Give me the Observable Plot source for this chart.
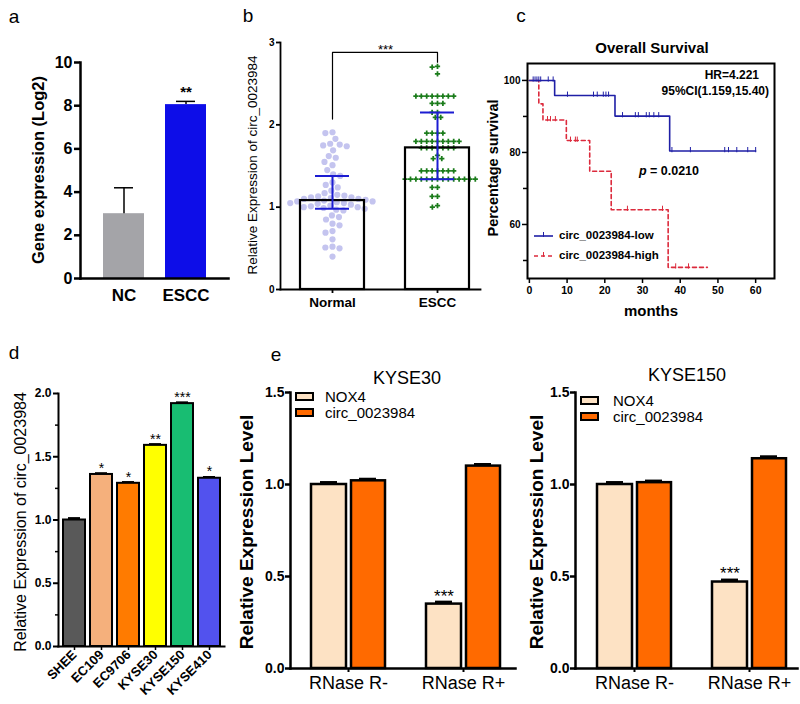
<!DOCTYPE html>
<html><head><meta charset="utf-8">
<script src="https://cdn.jsdelivr.net/npm/d3@7"></script>
<script src="https://cdn.jsdelivr.net/npm/@observablehq/plot@0.6"></script>
<style>
body{margin:0;background:#fff;}
#fig{position:relative;width:800px;height:704px;overflow:hidden;background:#fff;font-family:"Liberation Sans",Arial,sans-serif;color:#000;}
#fig svg{position:absolute;max-width:none;overflow:visible;}
.t{position:absolute;white-space:nowrap;line-height:1;}
</style></head><body><div id="fig"></div>
<script>
// ---------- data ----------
// panel a
const aGroups = ["NC", "ESCC"];
const aMeans = [3.0, 8.05];
const aUpper = [4.2, 8.2];
const aStars = ["", "**"];
// panel b
const bGroups = ["Normal", "ESCC"];
const bMeans = [1.08, 1.72];
const bLow = [0.98, 1.34];
const bHigh = [1.38, 2.15];
const bNormalPoints = [1.91, 1.90, 1.83, 1.77, 1.76, 1.75, 1.74, 1.69, 1.62, 1.60, 1.55, 1.51, 1.45, 1.40, 1.38,
  1.30, 1.27, 1.24, 1.20, 1.17, 1.15, 1.14, 1.13, 1.12, 1.12, 1.11, 1.10, 1.10, 1.09, 1.08, 1.07, 1.07, 1.06,
  1.05, 1.05, 1.04, 1.03, 1.02, 1.01, 1.00, 1.00, 0.99, 0.98, 0.97, 0.96, 0.90, 0.88, 0.85, 0.80, 0.78, 0.71,
  0.69, 0.61, 0.52, 0.51, 0.50, 0.40];
const bEsccPoints = [2.71, 2.70, 2.62, 2.35, 2.35, 2.35, 2.35, 2.35, 2.35, 2.35, 2.35, 2.26, 2.26, 2.26, 2.15, 2.15,
  2.09, 2.09, 1.90, 1.90, 1.90, 1.90, 1.80, 1.80, 1.80, 1.80, 1.80, 1.80, 1.80, 1.80, 1.80, 1.72, 1.72, 1.72, 1.72,
  1.72, 1.72, 1.72, 1.63, 1.59, 1.59, 1.44, 1.44, 1.44, 1.44, 1.44, 1.44, 1.44, 1.34, 1.34, 1.34, 1.34, 1.34, 1.34,
  1.34, 1.34, 1.34, 1.34, 1.34, 1.34, 1.34, 1.34, 1.24, 1.24, 1.13, 1.13, 1.02, 1.00];
const bBracketGroups = ["Normal", "Normal", "ESCC", "ESCC"];
const bBracketValues = [2.07, 2.88, 2.88, 2.76];
const bSignif = "***";
// panel c
const cLowMonths = [0, 6.7, 22.7, 37.2, 60];
const cLowSurvival = [100, 95.8, 90.1, 80.4, 80.4];
const cHighMonths = [0, 2.5, 3.6, 9.8, 16, 21.7, 36.8, 47.2];
const cHighSurvival = [100, 93.5, 89, 83.3, 74.8, 64.1, 48.1, 48.1];
const cLowCensorMonths = [1, 1.5, 2, 2.5, 3, 5, 6.3, 10.1, 17, 18, 19.6, 20.3, 21, 24.7, 28.1, 28.9, 31, 31.8, 33, 34.3, 37.8, 42.7, 51.8, 52.8, 55, 57.9, 60];
const cLowCensorSurvival = [100, 100, 100, 100, 100, 100, 100, 95.8, 95.8, 95.8, 95.8, 95.8, 95.8, 90.1, 90.1, 90.1, 90.1, 90.1, 90.1, 90.1, 80.4, 80.4, 80.4, 80.4, 80.4, 80.4, 80.4];
const cHighCensorMonths = [4.8, 5.6, 6.9, 10.9, 12.2, 12.7, 26, 35.3, 38.8, 42.2];
const cHighCensorSurvival = [89, 89, 89, 83.3, 83.3, 83.3, 64.1, 64.1, 48.1, 48.1];
const cSeries = ["circ_0023984-low", "circ_0023984-high"];
const cHR = "HR=4.221";
const cCI = "95%CI(1.159,15.40)";
const cP = "0.0210";
// panel d
const dLines = ["SHEE", "EC109", "EC9706", "KYSE30", "KYSE150", "KYSE410"];
const dValues = [1.0, 1.36, 1.29, 1.59, 1.92, 1.33];
const dErrors = [0.015, 0.01, 0.01, 0.01, 0.01, 0.01];
const dStars = ["", "*", "*", "**", "***", "*"];
// panel e
const eGroups = ["RNase R-", "RNase R+"];
const eSeries = ["NOX4", "circ_0023984"];
const eStars = ["", "***"];
const kyse30Nox4 = [1.0, 0.35];
const kyse30Nox4Err = [0.012, 0.012];
const kyse30Circ = [1.02, 1.10];
const kyse30CircErr = [0.01, 0.01];
const kyse150Nox4 = [1.0, 0.47];
const kyse150Nox4Err = [0.012, 0.012];
const kyse150Circ = [1.01, 1.14];
const kyse150CircErr = [0.01, 0.012];

// ---------- style ----------
const A_COLORS = ["#a4a4a8", "#0d0de8"];
const B_NORMAL = "#c4c4ef", B_ESCC = "#1b7c1b", B_ERR = "#1c1cd2";
const C_LOW = "#1f1fa6", C_HIGH = "#dc2a3c";
const D_COLORS = ["#595959", "#f5b07c", "#ff7b00", "#ffff00", "#18bd72", "#5252ee"];
const E_COLORS = ["#fde2c4", "#ff6a00"];
const base = {background: "transparent", fontFamily: "'Liberation Sans', Arial, sans-serif", overflow: "visible", color: "black"};

const fig = document.getElementById("fig");
function put(svg, left, top) { svg.style.left = left + "px"; svg.style.top = top + "px"; fig.appendChild(svg); return svg; }
function label(text, x, y, o = {}) {
  const d = document.createElement("div");
  d.className = "t";
  d.textContent = text;
  const tx = o.anchor === "end" ? "-100%" : o.anchor === "start" ? "0" : "-50%";
  d.style.left = x + "px"; d.style.top = y + "px";
  d.style.transform = `translate(${tx},-50%) rotate(${o.rotate || 0}deg)`;
  d.style.fontSize = (o.size || 12) + "px";
  d.style.fontWeight = o.weight || "normal";
  if (o.italic) d.style.fontStyle = "italic";
  fig.appendChild(d);
  return d;
}

// ---------- panel a ----------
const aData = aGroups.map((g, i) => ({g, v: aMeans[i], e: aUpper[i], s: aStars[i]}));
put(Plot.plot({
  width: 240, height: 320, marginLeft: 80, marginRight: 12, marginTop: 62, marginBottom: 42,
  style: {...base, fontWeight: "bold"},
  x: {domain: aGroups, paddingInner: 0.34, paddingOuter: 0.345},
  y: {domain: [0, 10]},
  color: {domain: aGroups, range: A_COLORS},
  marks: [
    Plot.barY(aData, {x: "g", y: "v", fill: "g"}),
    Plot.ruleX(aData, {x: "g", y1: "v", y2: "e", strokeWidth: 1.5}),
    Plot.tickY(aData, {x: "g", y: "e", strokeWidth: 1.5, inset: 11}),
    Plot.text(aData, {x: "g", y: "e", text: "s", dy: -9, fontSize: 15}),
    Plot.axisY({ticks: [0, 2, 4, 6, 8, 10], label: null, tickSize: 6, tickPadding: 2, fontSize: 16, strokeWidth: 2.5}),
    Plot.axisX({label: null, tickSize: 0, tickPadding: 10, fontSize: 17}),
    Plot.frame({anchor: "left", strokeWidth: 2.5}),
    Plot.frame({anchor: "bottom", strokeWidth: 2.5})
  ]
}), 0, 0);
label("Gene expression (Log2)", 38, 170, {rotate: -90, size: 16.5, weight: "bold"});

// ---------- panel b ----------
const bData = bGroups.map((g, i) => ({g, m: bMeans[i], lo: bLow[i], hi: bHigh[i]}));
const bBracket = bBracketGroups.map((g, i) => ({g, v: bBracketValues[i]}));
const bPlot = Plot.plot({
  width: 240, height: 320, marginLeft: 30, marginRight: 10, marginTop: 42, marginBottom: 31,
  style: {...base, fontWeight: "bold"},
  x: {domain: bGroups, paddingInner: 0.39, paddingOuter: 0.147, align: 0.65},
  y: {domain: [0, 3]},
  marks: [
    Plot.barY(bData, {x: "g", y: "m", fill: "none", stroke: "black", strokeWidth: 2.2}),
    Plot.ruleX(bData, {x: "g", y1: "lo", y2: "hi", stroke: B_ERR, strokeWidth: 2}),
    Plot.tickY(bData, {x: "g", y: "lo", stroke: B_ERR, strokeWidth: 2, inset: 15}),
    Plot.tickY(bData, {x: "g", y: "hi", stroke: B_ERR, strokeWidth: 2, inset: 15}),
    Plot.line(bBracket, {x: "g", y: "v", strokeWidth: 1.2}),
    Plot.text([bBracketValues[1]], {y: (d) => d, text: () => bSignif, frameAnchor: "middle", dx: 5, dy: -3, fontSize: 13, fontWeight: "normal"}),
    Plot.axisY({ticks: [0, 1, 2, 3], tickFormat: d3.format("d"), label: null, tickSize: 4, tickPadding: 2, fontSize: 10, strokeWidth: 1.8}),
    Plot.axisX({label: null, tickSize: 4, tickPadding: 4, fontSize: 13.5, strokeWidth: 1.8}),
    Plot.frame({anchor: "left", strokeWidth: 1.8}),
    Plot.frame({anchor: "bottom", strokeWidth: 1.8})
  ]
});
const bx = bPlot.scale("x");
[[bNormalPoints, "Normal", B_NORMAL, "circle", 3.1], [bEsccPoints, "ESCC", B_ESCC, "cross", 2.2]].forEach(([pts, g, col, sym, r]) => {
  const cx = 250 + bx.apply(g) + bx.bandwidth / 2;
  put(Plot.plot({
    width: 110, height: 320, marginLeft: 0, marginRight: 0, marginTop: 42, marginBottom: 31,
    style: base,
    y: {domain: [0, 3], axis: null},
    marks: [Plot.dot(pts, Plot.dodgeX("middle", {y: (d) => d, r, fill: col, symbol: sym, padding: 0.2}))]
  }), cx - 55, 0);
});
put(bPlot, 250, 0);
label("Relative Expression of circ_0023984", 253, 165, {rotate: -90, size: 13.5});

// ---------- panel c ----------
const cLow = cLowMonths.map((t, i) => ({t, s: cLowSurvival[i]}));
const cHigh = cHighMonths.map((t, i) => ({t, s: cHighSurvival[i]}));
const cLowC = cLowCensorMonths.map((t, i) => ({t, s: cLowCensorSurvival[i]}));
const cHighC = cHighCensorMonths.map((t, i) => ({t, s: cHighCensorSurvival[i]}));
const censorTick = {draw(ctx, size) { const r = Math.sqrt(size / Math.PI); ctx.moveTo(0, -1.6 * r); ctx.lineTo(0, 0.5 * r); }};
put(Plot.plot({
  width: 340, height: 320, marginLeft: 67, marginRight: 26, marginTop: 63, marginBottom: 42,
  style: {...base, fontWeight: "bold"},
  x: {domain: [-0.5, 65]},
  y: {domain: [45, 104.7]},
  marks: [
    Plot.line(cHigh, {x: "t", y: "s", curve: "step-after", stroke: C_HIGH, strokeWidth: 1.6, strokeDasharray: "4,3"}),
    Plot.line(cLow, {x: "t", y: "s", curve: "step-after", stroke: C_LOW, strokeWidth: 1.6}),
    Plot.dot(cHighC, {x: "t", y: "s", symbol: censorTick, r: 2.5, stroke: C_HIGH, fill: "none", strokeWidth: 1}),
    Plot.dot(cLowC, {x: "t", y: "s", symbol: censorTick, r: 2.5, stroke: C_LOW, fill: "none", strokeWidth: 1}),
    Plot.axisY({ticks: [60, 80, 100], label: null, tickSize: 5, tickPadding: 2, fontSize: 10, strokeWidth: 1.5}),
    Plot.axisY({ticks: [50, 70, 90], label: null, tickSize: 4, tickFormat: () => "", strokeWidth: 1.5}),
    Plot.axisX({ticks: [0, 10, 20, 30, 40, 50, 60], label: null, tickSize: 5, tickPadding: 3, fontSize: 10.5, strokeWidth: 1.5}),
    Plot.frame({strokeWidth: 2})
  ]
}), 460, 0);
label("Overall Survival", 652, 47, {size: 15, weight: "bold"});
label("Percentage survival", 493, 168, {rotate: -90, size: 14.5, weight: "bold"});
label("months", 651, 310, {size: 15, weight: "bold"});
label(cHR, 759, 75, {anchor: "end", size: 12, weight: "bold"});
label(cCI, 769, 91, {anchor: "end", size: 12, weight: "bold"});
label("p", 639, 171, {anchor: "start", size: 12.5, weight: "bold", italic: true});
label("= " + cP, 650, 171, {anchor: "start", size: 12.5, weight: "bold"});
[[cSeries[0], 236, C_LOW, ""], [cSeries[1], 256, C_HIGH, "4,3"]].forEach(([txt, y, col, dash]) => {
  const s = document.createElementNS("http://www.w3.org/2000/svg", "svg");
  s.setAttribute("width", 22); s.setAttribute("height", 10);
  s.innerHTML = `<line x1="1" x2="20" y1="5" y2="5" stroke="${col}" stroke-width="1.6" ${dash ? `stroke-dasharray="${dash}"` : ""}/><line x1="10.5" x2="10.5" y1="1" y2="6" stroke="${col}" stroke-width="1"/>`;
  put(s, 533, y - 5);
  label(txt, 559, y, {anchor: "start", size: 11.5, weight: "bold"});
});

// ---------- panel d ----------
const dData = dLines.map((n, i) => ({n, v: dValues[i], e: dValues[i] + dErrors[i], s: dStars[i]}));
put(Plot.plot({
  width: 250, height: 374, marginLeft: 58, marginRight: 26, marginTop: 63, marginBottom: 58,
  style: {...base, fontWeight: "bold"},
  x: {domain: dLines, paddingInner: 0.2, paddingOuter: 0.174},
  y: {domain: [0, 2]},
  color: {domain: dLines, range: D_COLORS},
  marks: [
    Plot.barY(dData, {x: "n", y: "v", fill: "n", stroke: "black", strokeWidth: 2}),
    Plot.tickY(dData, {x: "n", y: "e", strokeWidth: 2, inset: 5}),
    Plot.text(dData, {x: "n", y: "e", text: "s", dy: -5, fontSize: 14, fontWeight: "normal"}),
    Plot.text(dData, {x: "n", text: "n", frameAnchor: "bottom", rotate: -45, textAnchor: "end", dx: 3, dy: 9, fontSize: 13}),
    Plot.axisY({ticks: [0, 0.5, 1, 1.5, 2], tickFormat: d3.format(".1f"), label: null, tickSize: 5, tickPadding: 2, fontSize: 12, strokeWidth: 2}),
    Plot.axisY({ticks: [0.25, 0.75, 1.25, 1.75], label: null, tickSize: 3, tickFormat: () => "", strokeWidth: 1.5}),
    Plot.axisX({label: null, tickSize: 4, tickFormat: () => "", strokeWidth: 1.5}),
    Plot.frame({anchor: "left", strokeWidth: 2}),
    Plot.frame({anchor: "bottom", strokeWidth: 2})
  ]
}), 0, 330);
label("Relative Expression of circ_0023984", 21, 522, {rotate: -90, size: 16});

// ---------- panel e ----------
function panelE(nox, noxErr, circ, circErr, o) {
  const nd = eGroups.map((g, i) => ({g, v: nox[i], e: nox[i] + noxErr[i], s: eStars[i]}));
  const cd = eGroups.map((g, i) => ({g, v: circ[i], e: circ[i] + circErr[i]}));
  return Plot.plot({
    width: o.width, height: 374, marginLeft: o.ml, marginRight: o.mr, marginTop: 62, marginBottom: 36,
    style: {...base, fontWeight: "bold"},
    x: {domain: eGroups, paddingInner: 0.353, paddingOuter: o.po, align: o.align},
    y: {domain: [0, 1.5]},
    marks: [
      Plot.barY(nd, {x: "g", y: "v", fill: E_COLORS[0], stroke: "black", strokeWidth: 2.5, insetRight: 39}),
      Plot.barY(cd, {x: "g", y: "v", fill: E_COLORS[1], stroke: "black", strokeWidth: 2.5, insetLeft: 40}),
      Plot.tickY(nd, {x: "g", y: "e", strokeWidth: 2.5, insetLeft: 9, insetRight: 48}),
      Plot.tickY(cd, {x: "g", y: "e", strokeWidth: 2.5, insetLeft: 48, insetRight: 9}),
      Plot.text(nd, {x: "g", y: "e", text: "s", dx: -19.5, dy: o.sdy, fontSize: 17, fontWeight: "normal"}),
      Plot.axisY({ticks: [0, 0.5, 1, 1.5], tickFormat: d3.format(".1f"), label: null, tickSize: 5, tickPadding: 1, fontSize: 14, strokeWidth: 2.5}),
      Plot.axisX({label: null, tickSize: 4, tickPadding: 4, fontSize: 18, fontWeight: "normal", strokeWidth: 2}),
      Plot.frame({anchor: "left", strokeWidth: 2.5}),
      Plot.frame({anchor: "bottom", strokeWidth: 2.5})
    ]
  });
}
put(panelE(kyse30Nox4, kyse30Nox4Err, kyse30Circ, kyse30CircErr, {width: 280, ml: 40, mr: 15, po: 0.1466, align: 0.59, sdy: -5}), 250, 330);
put(panelE(kyse150Nox4, kyse150Nox4Err, kyse150Circ, kyse150CircErr, {width: 270, ml: 45, mr: 3, po: 0.1336, align: 0.677, sdy: -6}), 530, 330);
label("Relative Expression Level", 246, 532, {rotate: -90, size: 19, weight: "bold"});
label("Relative Expression Level", 536, 532, {rotate: -90, size: 19, weight: "bold"});
label("KYSE30", 407, 378, {size: 18});
label("KYSE150", 687, 375, {size: 18});
function eLegend(sx, tx, ys) {
  eSeries.forEach((s, i) => {
    const sw = document.createElement("div");
    sw.style.cssText = `position:absolute;left:${sx}px;top:${ys[i] - 4.5}px;width:19px;height:9px;box-sizing:border-box;border:2.5px solid #000;background:${E_COLORS[i]};`;
    fig.appendChild(sw);
    label(s, tx, ys[i], {anchor: "start", size: 15});
  });
}
eLegend(295, 325, [396, 412]);
eLegend(580, 613, [400, 416]);

// ---------- panel letters ----------
label("a", 14, 16, {size: 19});
label("b", 248, 15, {size: 19});
label("c", 521, 15, {size: 19});
label("d", 14, 352, {size: 19});
label("e", 276, 354, {size: 19});
</script></body></html>
